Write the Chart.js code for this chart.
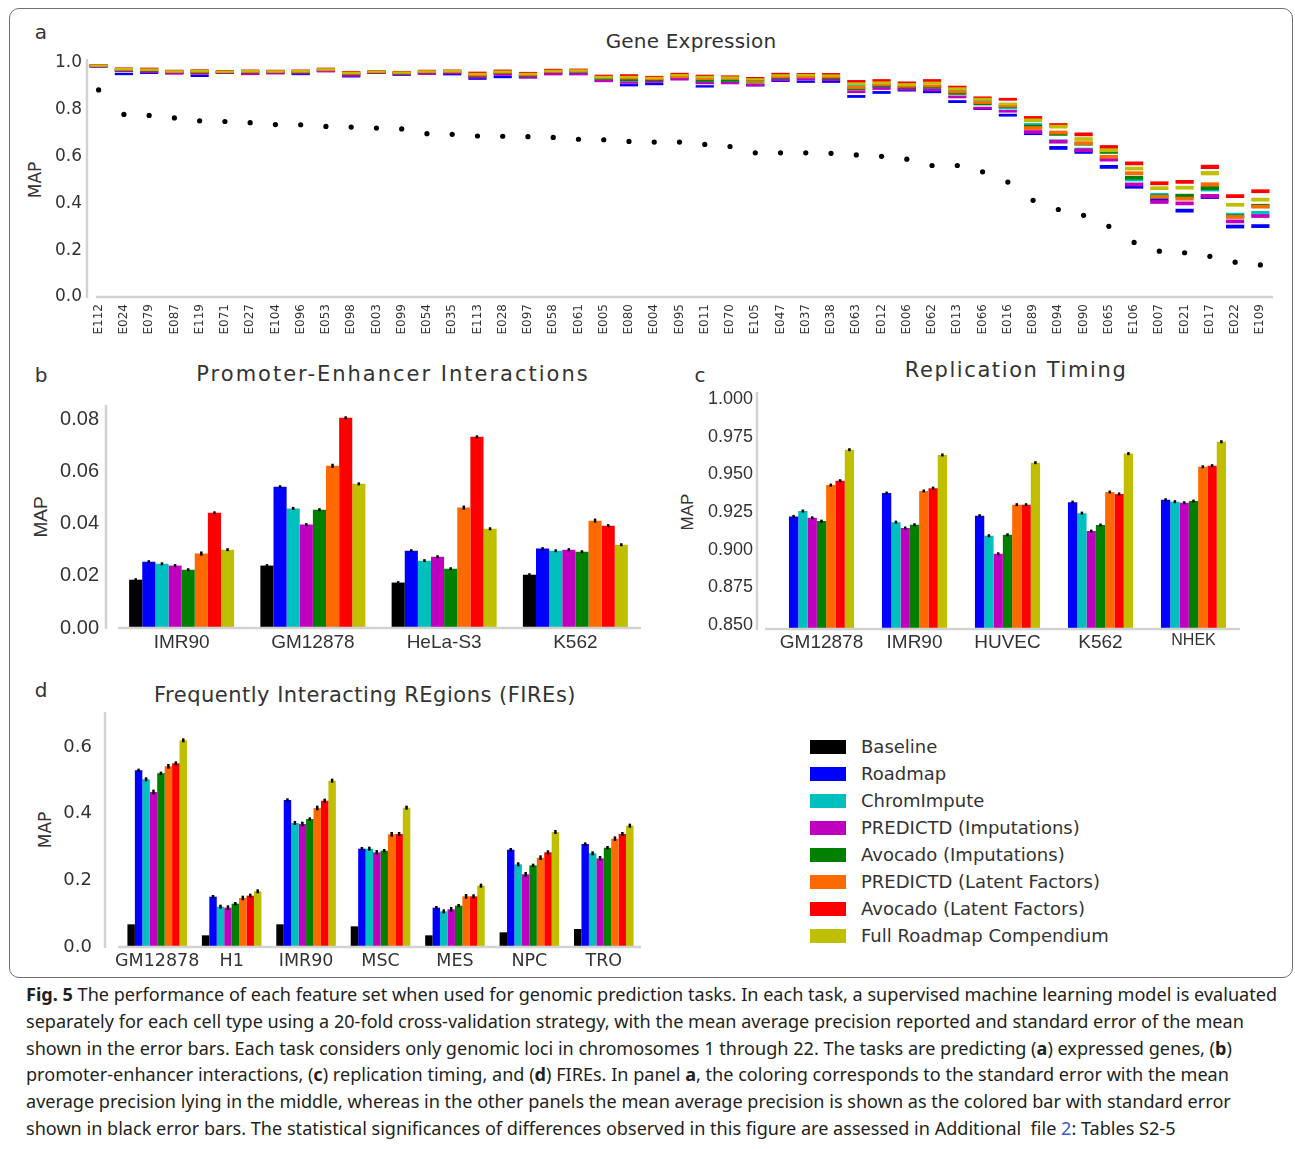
<!DOCTYPE html>
<html>
<head>
<meta charset="utf-8">
<script src="https://cdn.jsdelivr.net/npm/chart.js@4.4.1/dist/chart.umd.min.js"></script>
<style>
  body { margin: 0; background: #fff; width: 1295px; height: 1149px; position: relative; overflow: hidden;
         font-family: 'DejaVu Sans', sans-serif; color: #333; }
  .frame { position: absolute; left: 9px; top: 8px; width: 1284px; height: 970px; box-sizing: border-box;
           border: 1.5px solid #707070; border-radius: 10px; }
  canvas { position: absolute; }
  .txt { position: absolute; white-space: nowrap; transform: translate(-50%, -50%); line-height: 1; }
  .rot { transform: translate(-50%, -50%) rotate(-90deg); }
  .legend { position: absolute; left: 810px; top: 733px; }
  .legend-row { height: 27px; display: flex; align-items: center; font-size: 18px; color: #333; }
  .legend-row span.sw { width: 36px; height: 14px; margin-right: 15px; display: inline-block; }
  .caption { position: absolute; left: 26px; top: 981px; font-family: 'Noto Sans', sans-serif; font-size: 18.5px;
             color: #231f20; line-height: 26.8px; transform-origin: 0 0; }
  .caption div { white-space: nowrap; }
  .caption b { font-weight: 700; }
  .caption .link { color: #3b5bd6; }
</style>
</head>
<body>
<div class="frame"></div>

<div class="txt" style="left:41px;top:32px;font-size:20px">a</div>
<div class="txt" style="left:691px;top:41px;font-size:20px;letter-spacing:0.2px">Gene Expression</div>
<div class="txt rot" style="left:35px;top:180px;font-size:17px">MAP</div>
<canvas id="chartA" width="1295" height="300" style="left:0;top:50px"></canvas>

<div class="txt" style="left:41px;top:375px;font-size:20px">b</div>
<div class="txt" style="left:393px;top:374px;font-size:21px;letter-spacing:2px">Promoter-Enhancer Interactions</div>
<div class="txt rot" style="left:40px;top:517px;font-size:19px;font-family:'Liberation Sans'">MAP</div>
<canvas id="chartB" width="660" height="270" style="left:0;top:395px"></canvas>

<div class="txt" style="left:700px;top:375px;font-size:20px">c</div>
<div class="txt" style="left:1016px;top:370px;font-size:21px;letter-spacing:1.6px">Replication Timing</div>
<div class="txt rot" style="left:687px;top:512px;font-size:17px;font-family:'Liberation Sans'">MAP</div>
<canvas id="chartC" width="620" height="285" style="left:660px;top:380px"></canvas>

<div class="txt" style="left:41px;top:690px;font-size:20px">d</div>
<div class="txt" style="left:365px;top:695px;font-size:21px;letter-spacing:0.5px">Frequently Interacting REgions (FIREs)</div>
<div class="txt rot" style="left:45px;top:830px;font-size:17px">MAP</div>
<canvas id="chartD" width="660" height="275" style="left:0;top:700px"></canvas>

<div class="legend" id="legend"></div>

<div class="caption" id="caption">
  <div><b>Fig. 5</b> The performance of each feature set when used for genomic prediction tasks. In each task, a supervised machine learning model is evaluated</div>
  <div>separately for each cell type using a 20-fold cross-validation strategy, with the mean average precision reported and standard error of the mean</div>
  <div>shown in the error bars. Each task considers only genomic loci in chromosomes 1 through 22. The tasks are predicting (<b>a</b>) expressed genes, (<b>b</b>)</div>
  <div>promoter-enhancer interactions, (<b>c</b>) replication timing, and (<b>d</b>) FIREs. In panel <b>a</b>, the coloring corresponds to the standard error with the mean</div>
  <div>average precision lying in the middle, whereas in the other panels the mean average precision is shown as the colored bar with standard error</div>
  <div>shown in black error bars. The statistical significances of differences observed in this figure are assessed in Additional&nbsp; file <span class="link">2</span>: Tables S2-5</div>
</div>

<script>
// ======= DATA =======
const seriesNames = ['Baseline', 'Roadmap', 'ChromImpute', 'PREDICTD (Imputations)', 'Avocado (Imputations)',
  'PREDICTD (Latent Factors)', 'Avocado (Latent Factors)', 'Full Roadmap Compendium'];

// Panel a: gene expression (mean and standard error per cell type)
const cellsA = ['E112','E024','E079','E087','E119','E071','E027','E104','E096','E053','E098','E003','E099','E054',
  'E035','E113','E028','E097','E058','E061','E005','E080','E004','E095','E011','E070','E105','E047','E037','E038',
  'E063','E012','E006','E062','E013','E066','E016','E089','E094','E090','E065','E106','E007','E021','E017','E022','E109'];
const baselineA = [0.885,0.780,0.776,0.765,0.753,0.750,0.745,0.737,0.736,0.729,0.726,0.722,0.718,0.698,0.695,0.688,
  0.687,0.685,0.682,0.674,0.672,0.665,0.662,0.662,0.652,0.643,0.616,0.616,0.616,0.614,0.607,0.601,0.589,0.562,0.562,
  0.535,0.491,0.413,0.374,0.349,0.302,0.233,0.196,0.189,0.174,0.149,0.137];
const roadmapA = [0.985,0.953,0.958,0.958,0.945,0.958,0.955,0.958,0.953,0.966,0.943,0.958,0.950,0.956,0.952,0.933,
  0.940,0.940,0.955,0.955,0.925,0.905,0.910,0.935,0.900,0.918,0.905,0.924,0.920,0.920,0.857,0.874,0.884,0.877,0.835,
  0.805,0.777,0.700,0.637,0.620,0.556,0.471,0.415,0.369,0.428,0.301,0.303];
const chromImputeA = [0.987,0.968,0.965,0.960,0.958,0.960,0.960,0.960,0.960,0.968,0.950,0.960,0.955,0.960,0.960,0.942,
  0.955,0.945,0.960,0.962,0.932,0.925,0.925,0.938,0.918,0.922,0.912,0.932,0.935,0.932,0.905,0.900,0.895,0.895,0.885,
  0.840,0.808,0.735,0.665,0.630,0.595,0.502,0.437,0.430,0.460,0.352,0.360];
const predictdImpA = [0.986,0.966,0.962,0.955,0.955,0.958,0.953,0.956,0.957,0.965,0.946,0.958,0.952,0.954,0.957,0.938,
  0.950,0.938,0.952,0.952,0.923,0.916,0.920,0.930,0.914,0.914,0.905,0.928,0.930,0.928,0.877,0.891,0.888,0.885,0.855,
  0.807,0.794,0.705,0.664,0.627,0.587,0.481,0.406,0.400,0.431,0.323,0.346];
const avocadoImpA = [0.988,0.970,0.968,0.962,0.960,0.961,0.961,0.962,0.961,0.972,0.953,0.961,0.956,0.961,0.962,0.945,
  0.958,0.947,0.962,0.964,0.934,0.928,0.928,0.945,0.925,0.925,0.925,0.938,0.945,0.936,0.890,0.904,0.897,0.898,0.870,
  0.825,0.815,0.728,0.697,0.655,0.620,0.510,0.430,0.433,0.466,0.345,0.390];
const predictdLfA = [0.988,0.972,0.970,0.963,0.963,0.962,0.963,0.963,0.963,0.970,0.955,0.962,0.957,0.962,0.963,0.948,
  0.960,0.950,0.963,0.965,0.937,0.935,0.932,0.940,0.933,0.934,0.918,0.941,0.940,0.940,0.895,0.908,0.901,0.902,0.877,
  0.831,0.817,0.722,0.703,0.657,0.599,0.529,0.428,0.420,0.481,0.342,0.386];
const avocadoLfA = [0.990,0.976,0.975,0.966,0.968,0.965,0.967,0.966,0.967,0.975,0.961,0.964,0.961,0.966,0.967,0.958,
  0.967,0.957,0.970,0.971,0.945,0.947,0.940,0.953,0.945,0.942,0.935,0.953,0.952,0.952,0.921,0.925,0.915,0.925,0.897,
  0.851,0.845,0.765,0.735,0.695,0.641,0.571,0.486,0.492,0.556,0.431,0.452];
const fullA = [0.989,0.974,0.972,0.964,0.966,0.963,0.965,0.964,0.965,0.973,0.958,0.963,0.959,0.964,0.965,0.953,
  0.963,0.953,0.966,0.968,0.940,0.940,0.936,0.948,0.940,0.938,0.930,0.947,0.948,0.946,0.911,0.915,0.908,0.914,0.890,
  0.845,0.825,0.755,0.728,0.675,0.627,0.549,0.465,0.467,0.529,0.394,0.416];
const seA = [0.005,0.005,0.005,0.005,0.005,0.005,0.005,0.005,0.005,0.005,0.005,0.005,0.005,0.005,0.005,0.005,
  0.005,0.005,0.005,0.005,0.005,0.005,0.005,0.005,0.005,0.005,0.005,0.005,0.005,0.005,0.006,0.006,0.006,0.006,0.006,
  0.006,0.006,0.008,0.008,0.008,0.008,0.008,0.008,0.008,0.009,0.008,0.008];
const ticksA = [0.0, 0.2, 0.4, 0.6, 0.8, 1.0];

// Panel b: promoter-enhancer interactions
const cellsB = ['IMR90', 'GM12878', 'HeLa-S3', 'K562'];
const baselineB = [0.0185, 0.0239, 0.0174, 0.0204];
const roadmapB = [0.0254, 0.0541, 0.0296, 0.0304];
const chromImputeB = [0.0246, 0.0458, 0.0258, 0.0296];
const predictdImpB = [0.0239, 0.0396, 0.0273, 0.0300];
const avocadoImpB = [0.0223, 0.0453, 0.0227, 0.0292];
const predictdLfB = [0.0285, 0.0621, 0.0461, 0.0411];
const avocadoLfB = [0.0441, 0.0805, 0.0732, 0.0392];
const fullB = [0.0300, 0.0552, 0.0380, 0.0319];
const errB = [0.0002, 0.0002, 0.0005, 0.0005, 0.0004, 0.0008, 0.0003, 0.0005];
const ticksB = [0.00, 0.02, 0.04, 0.06, 0.08];

// Panel c: replication timing (no baseline)
const cellsC = ['GM12878', 'IMR90', 'HUVEC', 'K562', 'NHEK'];
const roadmapC = [0.9220, 0.9375, 0.9225, 0.9315, 0.9331];
const chromImputeC = [0.9256, 0.9182, 0.9092, 0.9242, 0.9318];
const predictdImpC = [0.9211, 0.9143, 0.8972, 0.9123, 0.9311];
const avocadoImpC = [0.9189, 0.9165, 0.9098, 0.9163, 0.9322];
const predictdLfC = [0.9428, 0.9389, 0.9298, 0.9382, 0.9550];
const avocadoLfC = [0.9457, 0.9408, 0.9298, 0.9369, 0.9557];
const fullC = [0.9663, 0.9628, 0.9577, 0.9637, 0.9716];
const errC = [0.0008, 0.0008, 0.0008, 0.0008, 0.0007, 0.0007, 0.0005];
const ticksC = [0.850, 0.875, 0.900, 0.925, 0.950, 0.975, 1.000];

// Panel d: FIREs
const cellsD = ['GM12878', 'H1', 'IMR90', 'MSC', 'MES', 'NPC', 'TRO'];
const baselineD = [0.068, 0.035, 0.068, 0.062, 0.035, 0.044, 0.054];
const roadmapD = [0.530, 0.151, 0.441, 0.295, 0.118, 0.292, 0.309];
const chromImputeD = [0.503, 0.121, 0.372, 0.295, 0.107, 0.248, 0.281];
const predictdImpD = [0.465, 0.118, 0.369, 0.284, 0.113, 0.218, 0.266];
const avocadoImpD = [0.521, 0.130, 0.384, 0.289, 0.124, 0.245, 0.298];
const predictdLfD = [0.542, 0.147, 0.417, 0.338, 0.152, 0.268, 0.325];
const avocadoLfD = [0.551, 0.154, 0.439, 0.339, 0.152, 0.284, 0.339];
const fullD = [0.620, 0.167, 0.499, 0.418, 0.184, 0.345, 0.364];
const errD = [0, 0.005, 0.006, 0.007, 0.005, 0.007, 0.006, 0.006];
const ticksD = [0.0, 0.2, 0.4, 0.6];

// ======= STYLE =======
const seriesColors = ['#000000', '#0000ff', '#00bfbf', '#bf00bf', '#008000', '#ff6a00', '#ff0000', '#bfbf00'];
Chart.defaults.font.family = "'DejaVu Sans', sans-serif";
Chart.defaults.color = '#333333';
Chart.defaults.animation = false;

// ======= PLUGINS =======
// light grey axis lines, detached from each other like the original
const spines = {
  id: 'spines',
  afterDraw(chart, args, opts) {
    const { ctx, chartArea: area } = chart;
    ctx.save();
    ctx.strokeStyle = '#d2d2d2';
    ctx.lineWidth = 2.5;
    ctx.beginPath();
    ctx.moveTo(area.left + opts.yAt, area.top);
    ctx.lineTo(area.left + opts.yAt, area.bottom + 1);
    ctx.moveTo(area.left + opts.xFrom, area.bottom);
    ctx.lineTo(area.right, area.bottom);
    ctx.stroke();
    ctx.restore();
  }
};

// black standard-error marks on top of bars
const errorBars = {
  id: 'errorBars',
  afterDatasetsDraw(chart) {
    const { ctx } = chart;
    const y = chart.scales.y;
    ctx.save();
    ctx.strokeStyle = '#000';
    ctx.lineWidth = 2.5;
    chart.data.datasets.forEach((ds, di) => {
      if (!ds.errors) return;
      chart.getDatasetMeta(di).data.forEach((bar, i) => {
        const v = ds.data[i];
        const e = ds.errors[i];
        if (v == null || !e) return;
        const top = Math.min(y.getPixelForValue(v + e), bar.y - 1.5);
        const bottom = Math.max(y.getPixelForValue(v - e), bar.y + 1.5);
        ctx.beginPath();
        ctx.moveTo(bar.x, top);
        ctx.lineTo(bar.x, bottom);
        ctx.stroke();
      });
    });
    ctx.restore();
  }
};

function fixedTicks(list) {
  return scale => { scale.ticks = list.map(v => ({ value: v })); };
}

// pin an axis box to an exact size and drop the label overhang padding
function pinHeight(h) {
  return s => { s.height = h; s.paddingLeft = 0; s.paddingRight = 0; };
}
function pinWidth(w) {
  return s => { s.width = w; s.paddingTop = 0; s.paddingBottom = 0; };
}

// ======= PANEL A =======
const meansA = [roadmapA, chromImputeA, predictdImpA, avocadoImpA, predictdLfA, avocadoLfA, fullA];
const datasetsA = meansA.map((means, s) => ({
  label: seriesNames[s + 1],
  data: means.map((m, i) => [m - seA[i], m + seA[i]]),
  backgroundColor: seriesColors[s + 1],
  borderWidth: 0,
  grouped: false,
  barPercentage: 0.72,
  categoryPercentage: 1,
  order: meansA.length - s
}));
datasetsA.push({
  type: 'line',
  label: seriesNames[0],
  data: baselineA,
  showLine: false,
  pointRadius: 2.6,
  pointBackgroundColor: '#000',
  pointBorderWidth: 0,
  order: 20
});

new Chart(document.getElementById('chartA'), {
  type: 'bar',
  data: { labels: cellsA, datasets: datasetsA },
  options: {
    responsive: false,
    layout: { padding: { top: 9, right: 22, left: 0, bottom: 0 } },
    plugins: { legend: { display: false }, tooltip: { enabled: false }, spines: { yAt: 1, xFrom: 10 } },
    scales: {
      x: {
        grid: { display: false, drawTicks: false }, border: { display: false },
        ticks: { autoSkip: false, minRotation: 90, maxRotation: 90, padding: 7, color: '#333',
                 font: { size: 12 } },
        afterFit: pinHeight(53)
      },
      y: {
        min: 0, max: 1.017,
        grid: { display: false, drawTicks: false }, border: { display: false },
        afterBuildTicks: fixedTicks(ticksA),
        ticks: { padding: 4, font: { size: 17 }, callback: v => v.toFixed(1) },
        afterFit: pinWidth(86)
      }
    }
  },
  plugins: [spines]
});

// ======= PANELS B, C, D =======
function groupedBars(id, cats, seriesList, colorOffset, errs, cfg) {
  const datasets = seriesList.map((vals, s) => ({
    label: seriesNames[s + colorOffset],
    data: vals,
    errors: vals.map(() => errs[s]),
    backgroundColor: seriesColors[s + colorOffset],
    borderWidth: 0,
    barPercentage: 1,
    categoryPercentage: cfg.groupWidth
  }));
  return new Chart(document.getElementById(id), {
    type: 'bar',
    data: { labels: cats, datasets },
    options: {
      responsive: false,
      layout: { padding: cfg.padding },
      plugins: { legend: { display: false }, tooltip: { enabled: false }, spines: cfg.spines },
      scales: {
        x: {
          grid: { display: false, drawTicks: false }, border: { display: false },
          ticks: { padding: cfg.xPad, color: '#333', font: cfg.xFont, autoSkip: false, maxRotation: 0 },
          afterFit: pinHeight(cfg.xHeight)
        },
        y: {
          min: cfg.min, max: cfg.max,
          grid: { display: false, drawTicks: false }, border: { display: false },
          afterBuildTicks: fixedTicks(cfg.ticks),
          ticks: { padding: cfg.yPad, font: cfg.yFont, callback: v => v.toFixed(cfg.digits) },
          afterFit: pinWidth(cfg.yWidth)
        }
      }
    },
    plugins: [spines, errorBars]
  });
}

groupedBars('chartB', cellsB,
  [baselineB, roadmapB, chromImputeB, predictdImpB, avocadoImpB, predictdLfB, avocadoLfB, fullB], 0, errB, {
    groupWidth: 0.8, padding: { top: 10, right: 19, left: 0, bottom: 0 },
    spines: { yAt: -10, xFrom: 2 }, xPad: 3, xHeight: 37, yWidth: 116, yPad: 17,
    xFont: { family: "'Liberation Sans', sans-serif", size: 19 },
    yFont: { family: "'Liberation Sans', sans-serif", size: 20 },
    min: 0, max: 0.0854, ticks: ticksB, digits: 2
  });

groupedBars('chartC', cellsC,
  [roadmapC, chromImputeC, predictdImpC, avocadoImpC, predictdLfC, avocadoLfC, fullC], 1, errC, {
    groupWidth: 0.7, padding: { top: 12, right: 40, left: 0, bottom: 0 },
    spines: { yAt: -18, xFrom: -10 }, xPad: 2, xHeight: 36, yWidth: 115, yPad: 22,
    xFont: ctx => ({ family: "'Liberation Sans', sans-serif", size: ctx.index === 4 ? 16 : 19 }),
    yFont: { family: "'Liberation Sans', sans-serif", size: 18 },
    min: 0.8473, max: 1.0046, ticks: ticksC, digits: 3
  });

groupedBars('chartD', cellsD,
  [baselineD, roadmapD, chromImputeD, predictdImpD, avocadoImpD, predictdLfD, avocadoLfD, fullD], 0, errD, {
    groupWidth: 0.8, padding: { top: 12, right: 19, left: 0, bottom: 0 },
    spines: { yAt: -15, xFrom: -2 }, xPad: 4, xHeight: 28, yWidth: 120, yPad: 28,
    xFont: { size: 17.5 },
    yFont: { size: 18 },
    min: 0, max: 0.705, ticks: ticksD, digits: 1
  });

// ======= LEGEND =======
const legend = document.getElementById('legend');
seriesNames.forEach((name, i) => {
  const row = document.createElement('div');
  row.className = 'legend-row';
  row.innerHTML = '<span class="sw" style="background:' + seriesColors[i] + '"></span>' + name;
  legend.appendChild(row);
});

// ======= CAPTION: squeeze to the printed width =======
const caption = document.getElementById('caption');
const firstLine = caption.querySelector('div');
const fit = () => {
  const w = firstLine.scrollWidth;
  caption.style.transform = 'scaleX(' + (1251 / w) + ')';
};
fit();
if (document.fonts) document.fonts.ready.then(fit);
</script>
</body>
</html>
